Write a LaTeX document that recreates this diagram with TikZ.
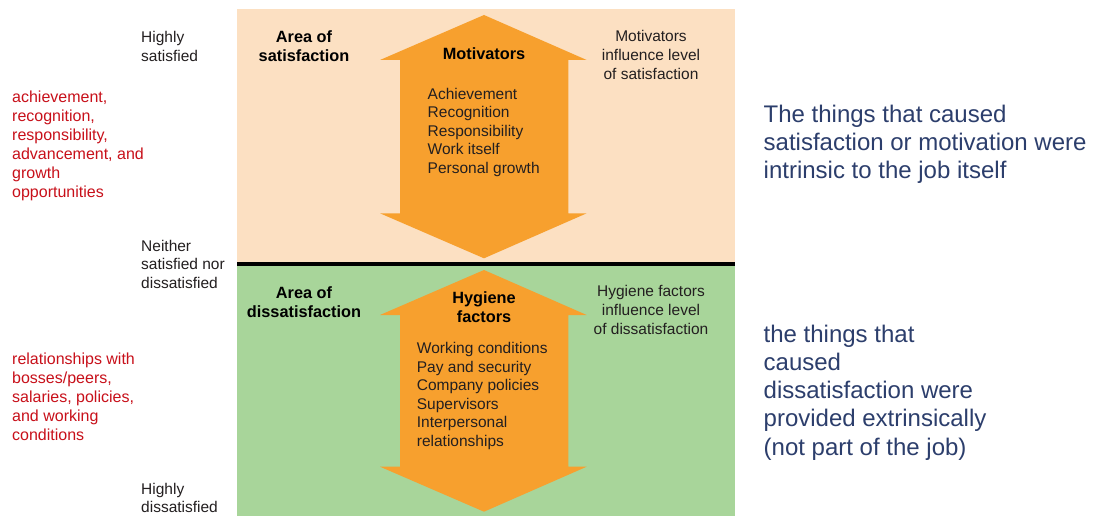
\documentclass[tikz,border=0pt]{standalone}
\usepackage{fontspec}
\setmainfont{Liberation Sans}
\definecolor{peach}{HTML}{FCE0C2}
\definecolor{lgreen}{HTML}{A8D59A}
\definecolor{orangearrow}{HTML}{F7A02E}
\definecolor{darktext}{HTML}{231F20}
\definecolor{redtext}{HTML}{C8101A}
\definecolor{bluetext}{HTML}{2C3E6C}
\tikzset{
  lbl/.style={anchor=north west, inner sep=0pt, align=left, text=darktext,
    font=\fontsize{15.5}{18.5}\selectfont},
  clbl/.style={anchor=north, inner sep=0pt, align=center, text=darktext,
    font=\fontsize{15.5}{18.7}\selectfont},
  blbl/.style={anchor=north, inner sep=0pt, align=center, text=black,
    font=\fontsize{16.3}{19}\selectfont\bfseries},
  redlbl/.style={anchor=north west, inner sep=0pt, align=left, text=redtext,
    font=\fontsize{16}{19}\selectfont},
  bluelbl/.style={anchor=north west, inner sep=0pt, align=left, text=bluetext,
    font=\fontsize{24}{28.3}\selectfont},
  arrowshape/.style={fill=orangearrow, draw=none},
}
\begin{document}
\begin{tikzpicture}[x=1pt,y=-1pt]
\useasboundingbox (0,0) rectangle (1096,516);
\fill[white] (0,0) rectangle (1096,516);
% panels
\fill[peach] (237,9.5) rectangle (734.5,263);
\fill[lgreen] (237,263) rectangle (734.5,516);
\draw[black, line width=4.5pt] (237,264) -- (734.5,264);
% arrows
\path[arrowshape] (484,15) -- (586.7,60) -- (568.3,60) -- (568.3,213.3) -- (586.7,213.3)
  -- (484,258.3) -- (380,213.3) -- (400,213.3) -- (400,60) -- (380,60) -- cycle;
\path[arrowshape] (484,270) -- (586.7,315) -- (568.3,315) -- (568.3,466.7) -- (586.7,466.7)
  -- (484,511.7) -- (380,466.7) -- (400,466.7) -- (400,315) -- (380,315) -- cycle;
% left scale labels
\node[lbl] (hs) at (141,31.5) {Highly\\satisfied};
\node[lbl] (ns) at (141,240) {Neither\\satisfied nor\\dissatisfied};
\node[lbl] (hd) at (141,483) {Highly\\dissatisfied};
% red notes
\node[redlbl] (r1) at (12,90.5) {achievement,\\recognition,\\responsibility,\\advancement, and\\growth\\opportunities};
\node[redlbl] (r2) at (12,352.5) {relationships with\\bosses/peers,\\salaries, policies,\\and working\\conditions};
% top panel
\node[blbl] (aos) at (304,30.5) {Area of\\satisfaction};
\node[blbl] (mot) at (484,47.5) {Motivators};
\node[lbl] (motl) at (427.5,88) {Achievement\\Recognition\\Responsibility\\Work itself\\Personal growth};
\node[clbl] (moti) at (651,30.5) {Motivators\\influence level\\of satisfaction};
% bottom panel
\node[blbl] (aod) at (304,286.5) {Area of\\dissatisfaction};
\node[blbl] (hyg) at (484,291.5) {Hygiene\\factors};
\node[lbl] (hygl) at (416.7,342.3) {Working conditions\\Pay and security\\Company policies\\Supervisors\\Interpersonal\\relationships};
\node[clbl] (hygi) at (651,285.5) {Hygiene factors\\influence level\\of dissatisfaction};
% blue notes
\node[bluelbl] (b1) at (763.5,104.5) {The things that caused\\satisfaction or motivation were\\intrinsic to the job itself};
\node[bluelbl] (b2) at (763.5,324.5) {the things that\\caused\\dissatisfaction were\\provided extrinsically\\(not part of the job)};
\end{tikzpicture}
\end{document}
